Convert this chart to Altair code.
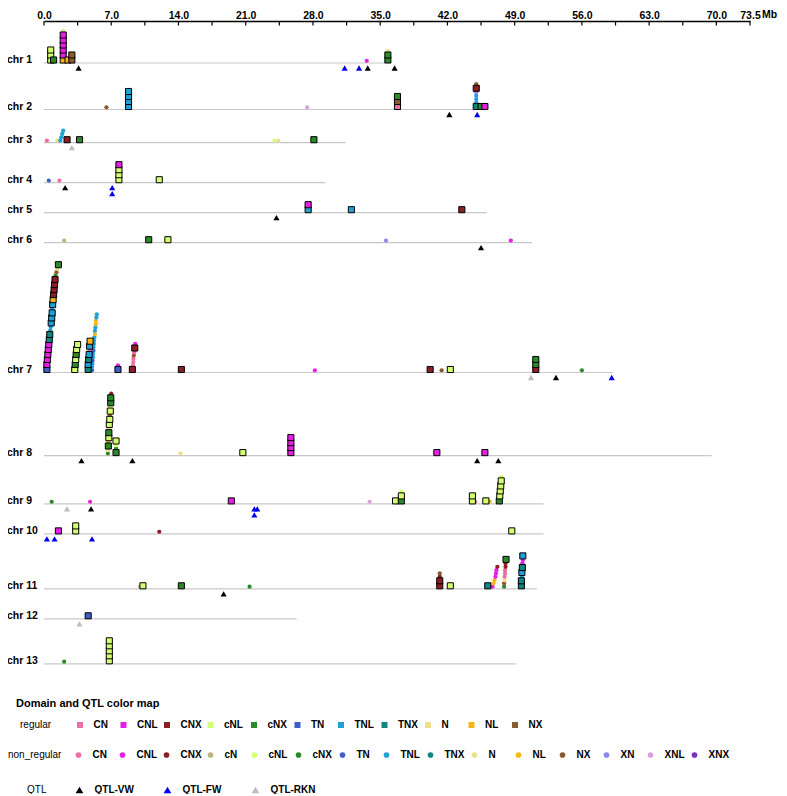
import altair as alt
import pandas as pd

FONT = "Liberation Sans, Arial"

# ---------------- data ----------------
CHROMS = ["chr 1", "chr 2", "chr 3", "chr 4", "chr 5", "chr 6", "chr 7",
          "chr 8", "chr 9", "chr 10", "chr 11", "chr 12", "chr 13"]
CHR_LEN = [35.5, 46.0, 31.4, 29.3, 46.1, 50.8, 59.2, 69.5, 52.0, 52.0, 51.3, 26.3, 49.1]

TICKS = [0.0, 3.5, 7.0, 10.5, 14.0, 17.5, 21.0, 24.5, 28.0, 31.5, 35.0, 38.5,
         42.0, 45.5, 49.0, 52.5, 56.0, 59.5, 63.0, 66.5, 70.0, 73.5]
TICK_LABELS = [0.0, 7.0, 14.0, 21.0, 28.0, 35.0, 42.0, 49.0, 56.0, 63.0, 70.0, 73.5]

REG_DOMAINS = ["CN", "CNL", "CNX", "cNL", "cNX", "TN", "TNL", "TNX", "N", "NL", "NX"]
NONREG_DOMAINS = ["CN", "CNL", "CNX", "cN", "cNL", "cNX", "TN", "TNL", "TNX",
                  "N", "NL", "NX", "XN", "XNL", "XNX"]
QTL_TYPES = ["QTL-VW", "QTL-FW", "QTL-RKN"]

PALETTE = {"CN": "#f06ca4", "CNL": "#e61ee6", "CNX": "#8b1f24", "cN": "#bfb27a",
           "cNL": "#d4ff70", "cNX": "#2a8a2a", "TN": "#3d5fc9", "TNL": "#1ea0d8",
           "TNX": "#12857f", "N": "#ece08c", "NL": "#f7b416", "NX": "#8a5a2e",
           "XN": "#8a86f2", "XNL": "#dca0dc", "XNX": "#7a2fbf"}
QTL_COLORS = ["#000000", "#0000ee", "#bdbdbd"]

# domain stacks: chromosome, position (Mb), items bottom -> top (S = regular, C = non_regular)
STACK_CHR = [1, 1, 1, 1, 1, 1, 1,
             2, 2, 2, 2, 2, 2, 2,
             3, 3, 3, 3, 3, 3, 3, 3,
             4, 4, 4, 4,
             5, 5, 5,
             6, 6, 6, 6, 6,
             7, 7, 7, 7, 7, 7, 7, 7, 7, 7, 7, 7, 7,
             8, 8, 8, 8, 8, 8, 8,
             9, 9, 9, 9, 9, 9, 9, 9, 9, 9, 9,
             10, 10, 10, 10,
             11, 11, 11, 11, 11, 11, 11, 11, 11, 11,
             12,
             13, 13]
STACK_POS = [0.7, 1.0, 2.0, 2.5, 2.9, 33.6, 35.8,
             6.5, 8.8, 27.4, 36.8, 45.0, 45.5, 45.9,
             0.3, 1.4, [1.7, 1.8, 1.9, 2.0], 2.4, 3.7, 24.0, 24.4, 28.1,
             0.5, 1.6, 7.8, 12.0,
             27.5, 32.0, 43.5,
             2.1, 10.9, 12.9, 35.6, 48.6,
             [0.3, 0.3, 0.35, 0.4, 0.45, 0.5, 0.55, 0.6, 0.65, 0.7, 0.75, 0.8, 0.85,
              0.85, 0.9, 0.95, 1.0, 1.05, 1.1, 1.15, 1.2, 1.3, 1.4, 1.5],
             [3.2, 3.25, 3.3, 3.35, 3.4, 3.5],
             [4.6, 4.6, 4.65, 4.7, 4.75, 4.75, 4.8],
             [5.0, 5.0, 5.05, 5.05, 5.1, 5.1, 5.15, 5.15, 5.2, 5.2, 5.25, 5.3, 5.3,
              5.35, 5.4, 5.4, 5.45, 5.5],
             7.7,
             [9.2, 9.25, 9.3, 9.3, 9.35, 9.4, 9.45, 9.5],
             14.3, 28.2, 40.2, 41.4, 42.3, 51.2, 56.0,
             [6.65, 6.65, 6.7, 6.7, 6.75, 6.75, 6.8, 6.8, 6.85, 6.85, 6.9, 6.9, 6.95,
              6.95, 7.0],
             7.5, 14.2, 20.7, 25.7, 40.9, 45.9,
             0.8, 4.8, 19.5, 33.9, 36.6, 37.2, 44.6, 44.9, 46.0, 46.4,
             [47.4, 47.45, 47.5, 47.55, 47.6, 47.6],
             1.5, 3.3, 12.0, 48.7,
             10.0, 10.3, 14.3, 21.4, 41.2, 42.3, 46.2,
             [46.7, 46.8, 46.9, 47.0, 47.05, 47.1, 47.2],
             [47.9, 47.9, 47.95, 47.95, 48.0, 48.0, 48.05, 48.05, 48.1],
             [49.7, 49.7, 49.75, 49.75, 49.8, 49.8, 49.85, 49.85],
             4.6,
             2.1, 6.8]
STACK_ITEMS = [
    "S-cNL S-cNL S-cNL", "S-cNX", "S-NL S-CNL S-CNL S-CNL S-CNL S-CNL C-N", "S-NL",
    "S-NX S-NX", "C-CNL", "S-cNX S-cNX C-N",
    "C-NX", "S-TNL S-TNL S-TNL S-TNL", "C-XNL", "S-CN S-NX S-cNX",
    "S-TNX C-TNL C-TNL C-TNL C-XN S-CNX C-NX", "S-cNX", "S-CNL",
    "C-CN", "C-N", "C-TNL C-TNL C-TNL C-TNL", "S-CNX", "S-cNX", "C-cNL", "C-N", "S-cNX",
    "C-TN", "C-CN", "S-cNL S-cNL S-cNL S-CNL", "S-cNL",
    "S-TNL S-CNL", "S-TNL", "S-CNX",
    "C-cN", "S-cNX", "S-cNL", "C-XN", "C-CNL",
    "S-TN S-CNL S-CNL S-CNL S-CNL S-CNL S-TNX S-TNX C-TNL C-TNL S-TNL S-TNL S-TNL C-TNL "
    "S-TNL S-NL S-CNX S-CNX S-CNX S-CNX C-cNX C-NX C-N S-cNX",
    "S-cNL S-cNX S-cNL S-cNX S-cNL S-cNL",
    "S-TNX S-TNL S-TNX S-TNL C-CN S-TNL S-NL",
    "C-TN C-TNL C-TNL C-TN C-TNL C-TNL C-TN C-TNL C-TNL C-TNL C-TNL C-NL C-TNL "
    "C-TNL C-NL C-NL C-TNL C-TNL",
    "S-TN C-CNL",
    "S-CNX C-CN C-CN C-CN C-NX C-CN S-CNX C-CNL",
    "S-CNX", "C-CNL", "S-CNX", "C-NX", "S-cNL", "S-CNX S-cNX S-cNX", "C-cNX",
    "C-cNX C-N S-cNX C-NL S-cNL S-cNX C-N S-cNL S-cNL C-NX S-cNL C-cNL S-cNX S-cNX C-CNX",
    "S-cNX C-cNX C-cNL S-cNL", "C-N", "S-cNL", "S-CNL S-CNL S-CNL S-CNL", "S-CNL", "S-CNL",
    "C-cNX", "C-CNL", "S-CNL", "C-XNL", "S-cNL", "S-cNX S-cNL C-cNL", "S-cNL S-cNL",
    "C-CN", "S-cNL", "C-NL", "S-cNX S-cNL S-cNL S-cNL S-cNL C-cNL",
    "S-CNL", "S-cNL S-cNL", "C-CNX", "S-cNL",
    "C-cN", "S-cNL", "S-cNX", "C-cNX", "S-CNX S-CNX C-CNX C-NX", "S-cNL", "S-TNX",
    "C-CNL C-NL C-NL C-CNL C-CNL C-CNL C-CNX",
    "C-cNX C-NX C-N C-CN C-CN C-CN C-CNX C-CNX S-cNX",
    "S-TNX S-TNX C-TNL S-TNL S-TNX C-CNL C-CNL S-TNL",
    "S-TN",
    "C-cNX", "S-cNL S-cNL S-cNL S-cNL S-cNL",
]

QTL_CHR = [1, 1, 1, 1, 1, 2, 2, 3, 4, 4, 4, 5, 6, 7, 7, 7, 8, 8, 8, 8,
           9, 9, 9, 9, 9, 10, 10, 10, 11, 12]
QTL_POS = [3.6, 31.3, 32.8, 33.7, 36.5, 42.2, 45.1, 2.9, 2.2, 7.1, 7.1, 24.2, 45.5,
           50.7, 53.3, 59.1, 3.9, 9.2, 45.1, 47.3,
           2.4, 4.9, 21.9, 21.9, 22.2, 0.3, 1.1, 5.0, 18.7, 3.7]
QTL_KIND = ["QTL-VW", "QTL-FW", "QTL-FW", "QTL-VW", "QTL-VW", "QTL-VW", "QTL-FW",
            "QTL-RKN", "QTL-VW", "QTL-FW", "QTL-FW", "QTL-VW", "QTL-VW",
            "QTL-RKN", "QTL-VW", "QTL-FW", "QTL-VW", "QTL-VW", "QTL-VW", "QTL-VW",
            "QTL-RKN", "QTL-VW", "QTL-FW", "QTL-FW", "QTL-FW", "QTL-FW", "QTL-FW",
            "QTL-FW", "QTL-VW", "QTL-RKN"]

# ---------------- layout (stack geometry) ----------------
W, H = 706, 660
SQ, CI = 5.0, 3.3
GAP = 20.0
FIRST = 8.7

heights = {c: 0.0 for c in range(1, 14)}
for c, items in zip(STACK_CHR, STACK_ITEMS):
    h = sum(SQ if t.startswith("S") else CI for t in items.split())
    heights[c] = max(heights[c], h)
base = {}
acc = FIRST - GAP
for c in range(1, 14):
    acc += max(heights[c], 10.0 if c > 1 else 0.0) + GAP
    base[c] = acc

chr_df = pd.DataFrame({"chrom": CHROMS, "length": CHR_LEN,
                       "start": [0.0] * 13, "base": [base[c] for c in range(1, 14)]})

rows = []
for c, pos, items in zip(STACK_CHR, STACK_POS, STACK_ITEMS):
    off = 0.0
    for j, t in enumerate(items.split()):
        kind, dom = t.split("-", 1)
        step = SQ if kind == "S" else CI
        p = pos[j] if isinstance(pos, list) else pos
        rows.append({"pos": p, "y": base[c] - off - step / 2 - 0.5, "domain": dom, "kind": kind})
        off += step
pts = pd.DataFrame(rows)
sq_df = pts[pts.kind == "S"]
ci_df = pts[pts.kind == "C"]

seen = {}
qrows = []
for c, p, k in zip(QTL_CHR, QTL_POS, QTL_KIND):
    n = seen.get((c, p), 0)
    seen[(c, p)] = n + 1
    qrows.append({"pos": p, "y": base[c] + 5 + n * 6, "qtl": k})
q_df = pd.DataFrame(qrows)

tick_df = pd.DataFrame({"t": TICKS})

# ---------------- chart ----------------
xs = alt.Scale(domain=[0, 73.5], nice=False, zero=False)
ys = alt.Scale(domain=[0, H], reverse=True, nice=False, zero=False)

xaxis = alt.Axis(orient="top", values=TICK_LABELS, labelExpr="format(datum.value, '.1f')",
                 title=None, grid=False, ticks=False, domain=True, domainColor="black",
                 domainWidth=1.5, labelFont=FONT, labelFontSize=10.5, labelFontWeight="bold",
                 labelColor="black", labelPadding=1, labelFlush=False, labelOverlap=False)


def X(field):
    return alt.X(field, scale=xs, axis=xaxis)


def Y(field):
    return alt.Y(field, scale=ys, axis=None)


lines = alt.Chart(chr_df).mark_rule(color="#c8c8c8", strokeWidth=1.2).encode(
    x=X("start:Q"), x2="length:Q", y=Y("base:Q"))

ticks = alt.Chart(tick_df).mark_rule(color="black", strokeWidth=1.2).encode(
    x=X("t:Q"), y=alt.value(0), y2=alt.value(4.5))

mb = alt.Chart(pd.DataFrame({"x": [73.5], "t": ["Mb"]})).mark_text(
    align="left", baseline="bottom", dx=12, dy=-1, font=FONT, fontSize=10.5, fontWeight="bold",
    color="black").encode(x=X("x:Q"), y=alt.value(0), text="t:N")


def leg(title, n, lx, ly, tpad, cpad, stype, ssize, loff):
    return alt.Legend(title=title, orient="none", legendX=lx, legendY=ly, direction="horizontal",
                      columns=n, gridAlign="all", titleOrient="left", titlePadding=tpad,
                      columnPadding=cpad, symbolType=stype, symbolSize=ssize,
                      symbolStrokeWidth=0, symbolOpacity=1, labelOffset=loff, padding=0,
                      labelFont=FONT, labelFontSize=10, labelFontWeight="bold",
                      labelColor="black", titleFont=FONT, titleFontSize=10,
                      titleFontWeight="normal", titleColor="black", titleBaseline="middle")


circles = alt.Chart(ci_df).mark_point(shape="circle", filled=True, size=18, opacity=1).encode(
    x=X("pos:Q"), y=Y("y:Q"),
    color=alt.Color("domain:N",
                    scale=alt.Scale(domain=NONREG_DOMAINS,
                                    range=[PALETTE[d] for d in NONREG_DOMAINS]),
                    legend=leg("non_regular", 15, -36, 729, 11.5, 3, "circle", 32, 9)))

squares = alt.Chart(sq_df).mark_point(shape="square", filled=True, size=37, opacity=1,
                                      stroke="black", strokeWidth=1).encode(
    x=X("pos:Q"), y=Y("y:Q"),
    fill=alt.Fill("domain:N",
                  scale=alt.Scale(domain=REG_DOMAINS, range=[PALETTE[d] for d in REG_DOMAINS]),
                  legend=leg("regular", 11, -24, 699, 23, 3.5, "square", 36, 8.5)))

tris = alt.Chart(q_df).mark_point(shape="triangle-up", filled=True, size=38, opacity=1).encode(
    x=X("pos:Q"), y=Y("y:Q"),
    color=alt.Color("qtl:N", scale=alt.Scale(domain=QTL_TYPES, range=QTL_COLORS),
                    legend=leg("QTL", 3, -17, 764, 27.5, 23, "triangle-up", 60, 10)))

labels = alt.Chart(chr_df).mark_text(align="left", baseline="middle", dy=-3, font=FONT,
                                     fontSize=10.5, fontWeight="bold", color="black").encode(
    x=alt.value(-37), y=Y("base:Q"), text="chrom:N")

header = alt.Chart(pd.DataFrame({"t": ["Domain and QTL color map"]})).mark_text(
    align="left", baseline="middle", font=FONT, fontSize=11, fontWeight="bold",
    color="black").encode(x=alt.value(-28), y=alt.value(683), text="t:N")

chart = alt.layer(lines, ticks, mb, circles, squares, tris, labels, header).resolve_scale(
    color="independent", fill="independent"
).properties(
    width=W, height=H, autosize="none",
    padding={"left": 36, "top": 13, "right": 29, "bottom": 113}
).configure_view(stroke=None)

chart.save("out.html", embed_options={"renderer": "svg", "actions": False})
